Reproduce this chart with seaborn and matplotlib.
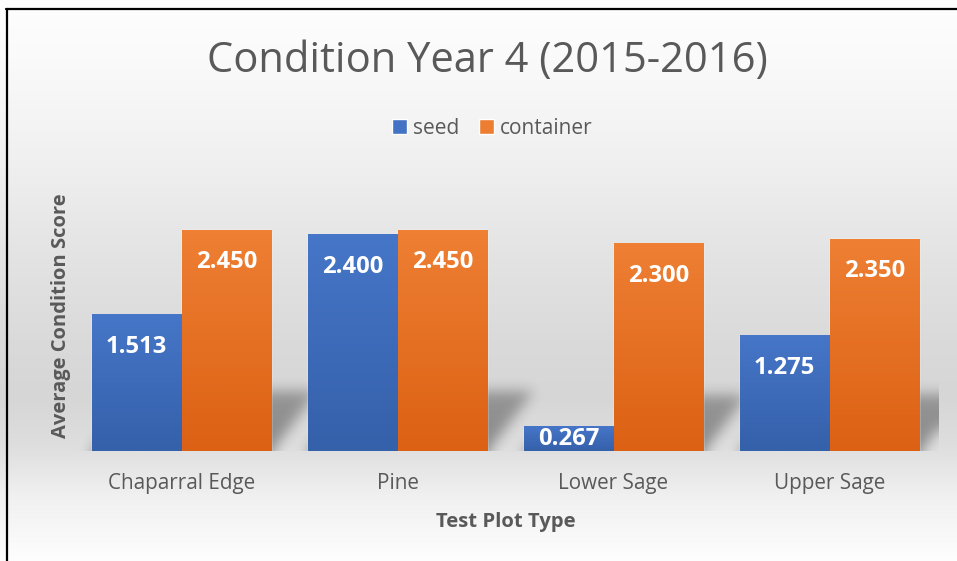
import numpy as np
import pandas as pd
import matplotlib
matplotlib.use("Agg")
import matplotlib.pyplot as plt
from matplotlib.colors import LinearSegmentedColormap, to_rgb
from matplotlib.lines import Line2D
import seaborn as sns

# ---------------- data ----------------
categories = ["Chaparral Edge", "Pine", "Lower Sage", "Upper Sage"]
seed = [1.513, 2.400, 0.267, 1.275]
container = [2.450, 2.450, 2.300, 2.350]
series_names = ["seed", "container"]
title = "Condition Year 4 (2015-2016)"
x_label = "Test Plot Type"
y_label = "Average Condition Score"

df = pd.DataFrame({
    "category": categories * 2,
    "score": seed + container,
    "series": [series_names[0]] * len(categories) + [series_names[1]] * len(categories),
})

sns.set_theme(style="white")
plt.rcParams['font.family'] = ['Open Sans', 'DejaVu Sans']

TXT = "#595959"
W, H = 957, 561
fig = plt.figure(figsize=(W / 100, H / 100), dpi=100)

# ---------------- background gradient ----------------
bg = fig.add_axes([0, 0, 1, 1], zorder=-10)
stops_y = [0, 60, 160, 250, 340, 395, 445, 495, 561]
stops_g = [254, 250, 240, 228, 218, 214, 222, 240, 254]
g = np.interp(np.arange(H), stops_y, stops_g) / 255.0
img = np.repeat(np.repeat(g[:, None], 2, axis=1)[:, :, None], 3, axis=2)
bg.imshow(img, aspect='auto', extent=[0, 1, 0, 1], interpolation='bilinear')
bg.set_xlim(0, 1); bg.set_ylim(0, 1)
bg.axis('off')

# ---------------- main axes ----------------
YMAX = 3.0
ax_left, ax_w = 73.5, 864.0
ax_bottom_px = 451.0
ax_h = 270.6
ax = fig.add_axes([ax_left / W, (H - ax_bottom_px) / H, ax_w / W, ax_h / H])
ax.set_facecolor('none')

palette = {"seed": "#4472c4", "container": "#ed7d31"}
sns.barplot(data=df, x="category", y="score", hue="series", palette=palette,
            width=0.833, gap=0, ax=ax, saturation=1, errorbar=None, zorder=3)

grad = {
    "seed": LinearSegmentedColormap.from_list("b", ["#3560aa", "#4676c8"]),
    "container": LinearSegmentedColormap.from_list("o", ["#dc6114", "#ee7f33"]),
}
blue = np.array(to_rgb(palette["seed"]))

px_x = ax_w / 4.0
px_y = ax_h / YMAX
bars = [p for p in ax.patches if p.get_height() > 0]

# shadow (perspective, blurred)
nx, ny = int(ax_w), int(round(ax_h))
XX, YY = np.meshgrid(np.arange(nx) + 0.5, np.arange(ny) + 0.5)
mask = np.zeros((ny, nx))
for p in bars:
    x0 = (p.get_x() + 0.5) * px_x
    x1 = x0 + p.get_width() * px_x
    hs = 0.27 * p.get_height() * px_y
    shift = 0.75 * hs
    t = YY / max(hs, 1e-6)
    m = (t <= 1) & (XX >= x0 + t * shift) & (XX <= x1 + t * shift)
    mask = np.maximum(mask, m * (1 - 0.2 * np.clip(t, 0, 1)))

def blur(a, s):
    r = int(3 * s)
    k = np.exp(-0.5 * (np.arange(-r, r + 1) / s) ** 2)
    k /= k.sum()
    a = np.pad(a, r, mode='edge')
    a = np.apply_along_axis(lambda v: np.convolve(v, k, mode='same'), 1, a)
    a = np.apply_along_axis(lambda v: np.convolve(v, k, mode='same'), 0, a)
    return a[r:-r, r:-r]

mask = blur(mask, 6.5)
shadow = np.zeros((ny, nx, 4))
shadow[..., 3] = 0.38 * mask
ax.imshow(shadow, origin='lower', extent=[-0.5, 3.5, 0, YMAX], aspect='auto',
          zorder=2, interpolation='bilinear')

# gradient fills on bars + labels
for p in bars:
    x, w, h = p.get_x(), p.get_width(), p.get_height()
    fc = np.array(p.get_facecolor()[:3])
    key = "seed" if np.allclose(fc, blue, atol=0.02) else "container"
    gv = np.linspace(0, 1, 64)[:, None]
    ax.imshow(gv, cmap=grad[key], origin='lower', extent=[x, x + w, 0, h],
              aspect='auto', zorder=3.5, interpolation='bilinear')
    off_px = min(32.0, h * px_y / 2.0)
    ax.annotate(f"{h:.3f}", (x + w / 2, h), xytext=(0, -off_px * 0.72),
                textcoords='offset points', ha='center', va='center',
                color='white', fontsize=17.2, fontweight='bold', zorder=5)

ax.set_xlim(-0.5, 3.5)
ax.set_ylim(0, YMAX)
ax.set_yticks([])
for s in ax.spines.values():
    s.set_visible(False)
ax.tick_params(axis='x', length=0, pad=15.5, labelsize=14.9, labelcolor=TXT)
ax.set_xlabel(x_label, fontsize=14.6, fontweight='bold', color=TXT, labelpad=13)
ax.set_ylabel(y_label, fontsize=14.5, fontweight='bold', color=TXT, labelpad=2)

sns.move_legend(ax, loc='center', bbox_to_anchor=(492 / W, 1 - 128 / H),
                bbox_transform=fig.transFigure, ncol=2, frameon=False, title=None,
                fontsize=15, handlelength=0.75, handleheight=0.75,
                handletextpad=0.25, columnspacing=0.95, labelcolor=TXT)

fig.text(487 / W, 1 - 61 / H, title, ha='center', va='center', fontsize=30, color=TXT)

# chart border (left and top visible)
fig.add_artist(Line2D([6.5 / W, 6.5 / W], [0, 1 - 8.5 / H], transform=fig.transFigure,
                      color='black', lw=1.6))
fig.add_artist(Line2D([6 / W, 1], [1 - 8.5 / H, 1 - 8.5 / H], transform=fig.transFigure,
                      color='black', lw=1.6))

fig.savefig('out.png', dpi=100)
